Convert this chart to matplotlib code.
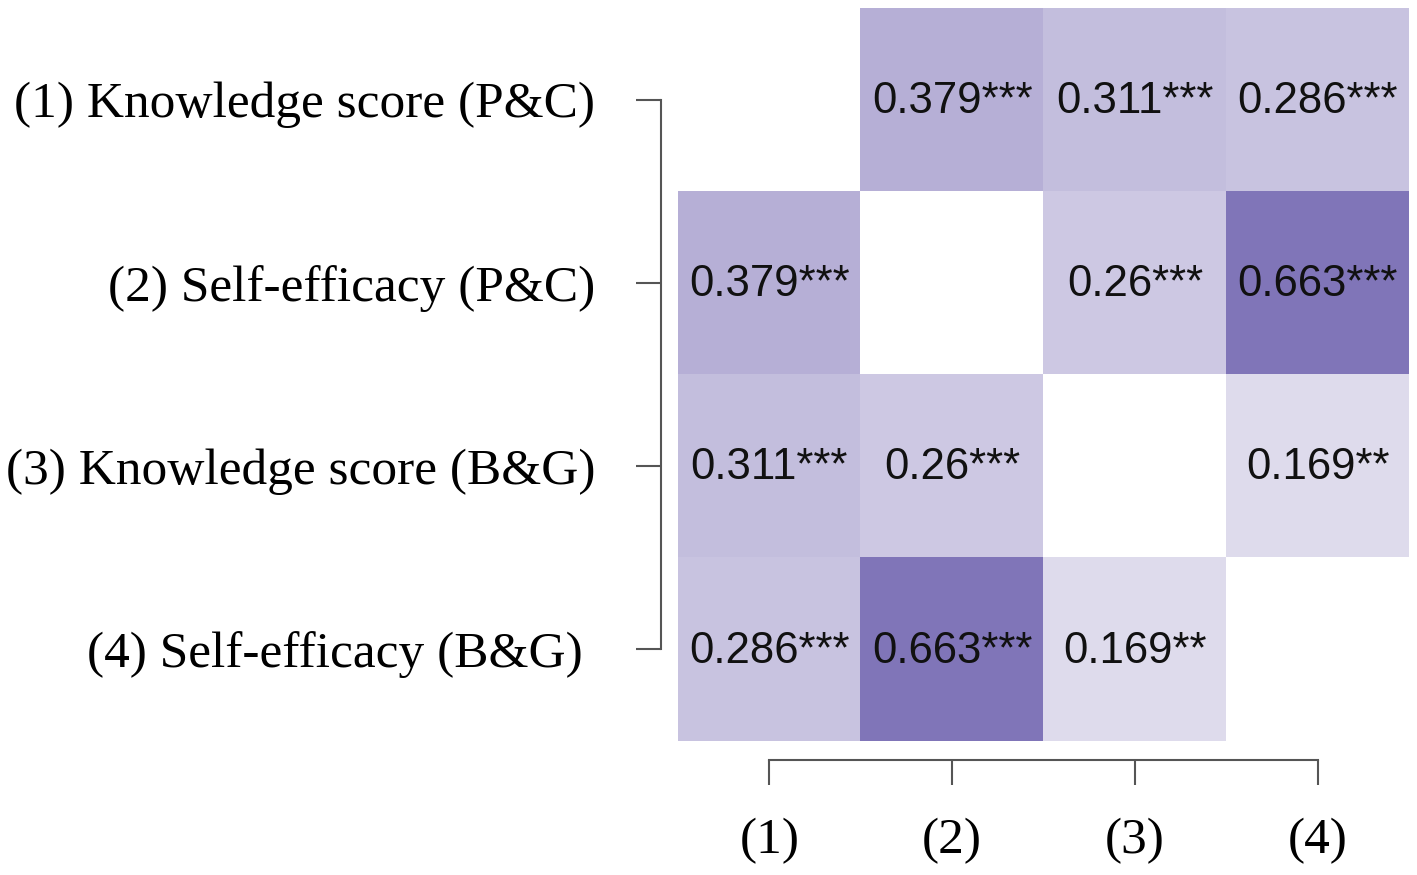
import numpy as np
import matplotlib
matplotlib.use("Agg")
import matplotlib.pyplot as plt
from matplotlib.colors import LinearSegmentedColormap

row_labels = ["(1) Knowledge score (P&C)", "(2) Self-efficacy (P&C)",
              "(3) Knowledge score (B&G)", "(4) Self-efficacy (B&G) "]
col_labels = ["(1)", "(2)", "(3)", "(4)"]
corr = np.array([
    [np.nan, 0.379, 0.311, 0.286],
    [0.379, np.nan, 0.26, 0.663],
    [0.311, 0.26, np.nan, 0.169],
    [0.286, 0.663, 0.169, np.nan],
])
stars = [
    ["", "***", "***", "***"],
    ["***", "", "***", "***"],
    ["***", "***", "", "**"],
    ["***", "***", "**", ""],
]

W, H = 1417, 875
fig = plt.figure(figsize=(W / 100, H / 100), dpi=100)
ax = fig.add_axes([678 / W, (H - 741) / H, (1409 - 678) / W, (741 - 8) / H])

cmap = LinearSegmentedColormap.from_list("pur", ["#ffffff", "#8075b8"])
cmap.set_bad("white")
ax.imshow(np.ma.masked_invalid(corr), cmap=cmap, vmin=0, vmax=0.663,
          aspect="auto", interpolation="nearest")

for i in range(4):
    for j in range(4):
        if not np.isnan(corr[i, j]):
            ax.text(j, i + 0.01, f"{corr[i, j]:g}{stars[i][j]}", ha="center", va="center",
                    fontsize=31.5, family="Liberation Sans", color="#111111")

axis_col = "#555555"
for side in ["top", "right"]:
    ax.spines[side].set_visible(False)
ax.spines["left"].set_position(("outward", 12.5))
ax.spines["bottom"].set_position(("outward", 13.5))
for side in ["left", "bottom"]:
    ax.spines[side].set_color(axis_col)
    ax.spines[side].set_linewidth(1.5)
ax.spines["left"].set_bounds(0, 3)
ax.spines["bottom"].set_bounds(0, 3)

ax.set_xticks(range(4))
ax.set_xticklabels(col_labels, family="Liberation Serif", fontsize=37)
ax.set_yticks(range(4))
ax.set_yticklabels(row_labels, family="Liberation Serif", fontsize=37)
ax.tick_params(axis="both", length=18, width=1.5, color=axis_col)
ax.tick_params(axis="x", pad=24)
ax.tick_params(axis="y", pad=29)

fig.savefig("out.png", dpi=100)
